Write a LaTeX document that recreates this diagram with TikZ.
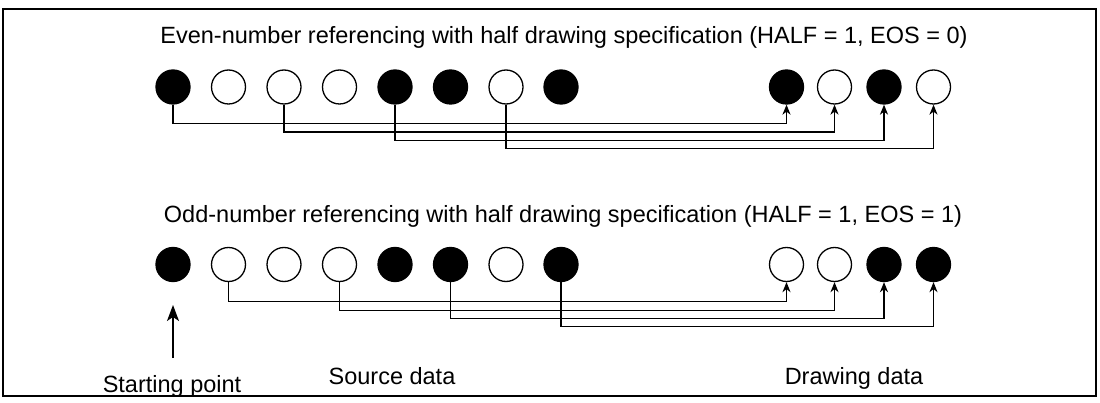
\documentclass[tikz,border=0pt]{standalone}
\usepackage{fontspec}
\setmainfont{Liberation Sans}
\usetikzlibrary{arrows.meta,positioning}
\tikzset{
  kor/.style={circle,draw,line width=1.3pt,minimum size=34pt,inner sep=0pt},
  tele/.style={kor,fill=black},
  ures/.style={kor,fill=white},
  nyil/.style={-{Stealth[length=10pt,width=8pt,inset=3pt]}},
  nagynyil/.style={-{Stealth[length=16pt,width=12pt,inset=4pt]}},
  vez/.style={line width=1.3pt},
  felirat/.style={anchor=base,inner sep=0pt},
}

\begin{document}
\begin{tikzpicture}[x=1pt,y=-1pt,font=\fontsize{23.5}{28}\selectfont]
  \useasboundingbox (0,0) rectangle (1100,403);
  \draw[line width=2pt] (3,9) rectangle (1096,396);
  % paros hivatkozas
  \node[felirat] (cimA) at (564,44) {Even-number referencing with half drawing specification (HALF = 1, EOS = 0)};
  \foreach \i/\x/\s in {1/173/tele,2/228.5/ures,3/284/ures,4/339.5/ures,5/395/tele,6/450.5/tele,7/506/ures,8/561/tele}
    \node[\s] (a\i) at (\x,87) {};
  \foreach \j/\x/\s in {1/786.5/tele,2/834.5/ures,3/884/tele,4/933.5/ures}
    \node[\s] (ca\j) at (\x,87) {};
  \foreach \i/\j/\d in {1/1/19,3/2/27.5,5/3/36,7/4/44}
    \draw[vez,nyil] (a\i.south) -- ++(0,\d) -| (ca\j.south);
  % paratlan hivatkozas
  \node[felirat] (cimB) at (563,223) {Odd-number referencing with half drawing specification (HALF = 1, EOS = 1)};
  \foreach \i/\x/\s in {1/173/tele,2/228.5/ures,3/284/ures,4/339.5/ures,5/395/tele,6/450.5/tele,7/506/ures,8/561/tele}
    \node[\s] (b\i) at (\x,264.5) {};
  \foreach \j/\x/\s in {1/786.5/ures,2/834.5/ures,3/884/tele,4/933.5/tele}
    \node[\s] (cb\j) at (\x,264.5) {};
  \foreach \i/\j/\d in {2/1/19.5,4/2/28,6/3/36,8/4/44}
    \draw[vez,nyil] (b\i.south) -- ++(0,\d) -| (cb\j.south);
  % jelmagyarazat
  \node[felirat] (kezdo) at (172,392) {Starting point};
  \node[felirat] (forras) at (392,384) {Source data};
  \node[felirat] (rajz) at (854,384) {Drawing data};
  \coordinate (csucs) at (173,305);
  \draw[vez,nagynyil] (csucs |- 0,358) -- (csucs);
\end{tikzpicture}
\end{document}
